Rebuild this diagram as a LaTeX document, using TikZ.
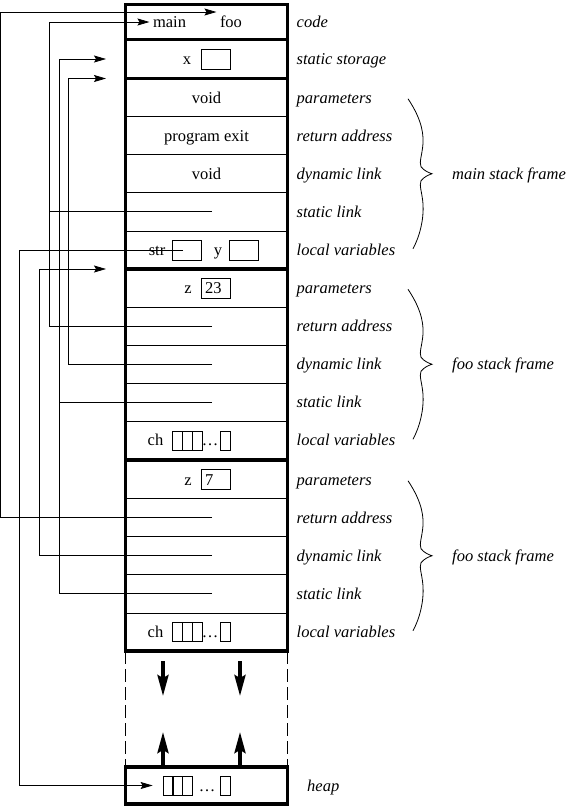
\documentclass[tikz,border=0pt]{standalone}
\usepackage{fontspec}
\setmainfont{Liberation Serif}
\usetikzlibrary{positioning,arrows.meta}

\begin{document}
\begin{tikzpicture}[x=1pt, y=-1pt,
    font=\fontsize{16.5}{19}\selectfont,
    every node/.append style={text height=11pt, text depth=0pt},
    row/.style={draw, line width=0.8pt, minimum width=162pt, minimum height=38.1pt, inner sep=0pt, outer sep=0pt},
    frame/.style={line width=3.5pt},
    tag/.style={anchor=west, inner sep=0pt, font=\fontsize{16.5}{19}\selectfont\itshape},
    valbox/.style={draw, line width=0.8pt, text width=21pt, inner xsep=4pt, inner ysep=0pt, minimum height=20pt, align=left},
    elem/.style={draw, line width=0.8pt, minimum width=10pt, minimum height=19pt, inner sep=0pt},
    link/.style={line width=0.8pt},
    ptr/.style={link, -{Stealth[length=12pt, width=7pt, inset=2pt]}},
    growarrow/.style={line width=3.5pt, -{Stealth[length=21pt, width=11pt, inset=3pt]}},
    curlybrace/.pic={
      \draw[line width=0.8pt] (-24,-75) .. controls (-14,-60) and (-8,-45) .. (-9,-30)
        .. controls (-10,-18) and (-13,-12) .. (-11,-7) .. controls (-8,-3) and (-3,-1) .. (0,0)
        .. controls (-3,1) and (-8,3) .. (-11,7) .. controls (-13,12) and (-10,18) .. (-9,30)
        .. controls (-8,45) and (-12,62) .. (-19,75);
    }
]
\useasboundingbox (0,0) rectangle (567,807);

% code and static storage
\node[row, minimum height=35.2pt, anchor=north] (code) at (206.5,4.3) {};
\node[row, minimum height=39pt, below=0pt of code] (static) {};
\node (main) at (169.5,22) {main};
\node (foo) at (231,22) {foo};
\node at ([xshift=-19.5pt]static.center) {x};
\node[valbox] (xbox) at ([xshift=9pt]static.center) {};
\node[tag] at ([xshift=9pt]code.east) {code};
\node[tag] at ([xshift=9pt]static.east) {static storage};

% stack frames
\foreach \f/\top in {main/78.5, fooA/269, fooB/460.5}
  \foreach \r [count=\i from 0] in {par,ret,dyn,stat,loc}
    \node[row, anchor=north] (\f\r) at (206.5, {\top+38.1*\i}) {};

\foreach \f/\txt in {main/main, fooA/foo, fooB/foo} {
  \foreach \r/\lbl in {par/parameters, ret/return address, dyn/dynamic link, stat/static link, loc/local variables}
    \node[tag] at ([xshift=9pt]\f\r.east) {\lbl};
  \draw[frame] (\f par.north west) rectangle (\f loc.south east);
  \pic at ([xshift=144.5pt]\f dyn.east) {curlybrace};
  \node[tag] at ([xshift=164.5pt]\f dyn.east) {\txt\ stack frame};
}
\draw[frame] (code.north west) rectangle (code.south east);
\draw[frame] (static.north west) rectangle (static.south east);

\node at (mainpar) {void};
\node at (mainret) {program exit};
\node at (maindyn) {void};
\node at ([xshift=-49.5pt]mainloc.center) {str};
\node[valbox] (strbox) at ([xshift=-19.5pt]mainloc.center) {};
\node at ([xshift=11.5pt]mainloc.center) {y};
\node[valbox] (ybox) at ([xshift=37.5pt]mainloc.center) {};

\foreach \f/\val in {fooA/23, fooB/7} {
  \node at ([xshift=-18.5pt]\f par.center) {z};
  \node[valbox] (\f z) at ([xshift=9pt]\f par.center) {\val};
  \node at ([xshift=-51pt]\f loc.center) {ch};
  \foreach \k in {0,1,2}
    \node[elem] (\f ch\k) at ([xshift={-29.5pt+10pt*\k}]\f loc.center) {};
  \node[anchor=base] at ([xshift=3.5pt, yshift=-5.5pt]\f loc.center) {\ldots};
  \node[elem] (\f chn) at ([xshift=18.5pt]\f loc.center) {};
}

% heap
\node[draw, line width=3.5pt, minimum width=162pt, minimum height=37pt, inner sep=0pt, outer sep=0pt] (heap) at (206.5,785.5) {};
\foreach \k in {0,1,2}
  \node[elem] (heapcell\k) at ([xshift={-38.5pt+9.7pt*\k}]heap.center) {};
\node[anchor=base] at ([xshift=0.5pt, yshift=-5.5pt]heap.center) {\ldots};
\node[elem] (heapcelln) at ([xshift=18.5pt]heap.center) {};
\node[tag] at ([xshift=19.5pt]heap.east) {heap};

% free space between stack and heap
\draw[link, dash pattern=on 13pt off 5pt] (fooBloc.south west) -- (heap.north west);
\draw[link, dash pattern=on 13pt off 5pt] (fooBloc.south east) -- (heap.north east);
\draw[growarrow] ([xshift=-43.5pt, yshift=-10pt]fooBloc.south) -- ++(0,35);
\draw[growarrow] ([xshift=33.5pt, yshift=-10pt]fooBloc.south) -- ++(0,35);
\draw[growarrow] ([xshift=-43.5pt]heap.north) -- ++(0,-35);
\draw[growarrow] ([xshift=33.5pt]heap.north) -- ++(0,-35);

% pointers
\coordinate (railA) at (0.5,0);
\coordinate (railB) at (19,0);
\coordinate (railC) at (39,0);
\coordinate (railD) at (49,0);
\coordinate (railE) at (59,0);
\coordinate (railF) at (68,0);
\coordinate (fooentry) at ([yshift=10pt]foo.west);
\coordinate (staticentry) at ([xshift=-19.5pt]static.west);
\coordinate (mainentry) at ([xshift=-19.5pt]mainpar.north west);
\coordinate (fooAentry) at ([xshift=-19.5pt]fooApar.north west);
\coordinate (heapentry) at ([xshift=-10pt]heapcell0.west);

\draw[ptr] ([xshift=5.5pt]fooBret.center) -| (railA |- fooentry) -- (fooentry);
\draw[ptr] ([xshift=5.5pt]fooAret.center) -| (railD |- main.west) -- (main.west);
\draw[link] ([xshift=5.5pt]mainstat.center) -- (railD |- mainstat.center);
\draw[ptr] ([xshift=5.5pt]fooAdyn.center) -| (railF |- mainentry) -- (mainentry);
\draw[ptr] ([xshift=5.5pt]fooAstat.center) -| (railE |- staticentry) -- (staticentry);
\draw[link] ([xshift=5.5pt]fooBstat.center) -| (railE |- fooAstat.center);
\draw[ptr] ([xshift=5.5pt]fooBdyn.center) -| (railC |- fooAentry) -- (fooAentry);
\draw[ptr] ([xshift=-4pt]strbox.center) -| (railB |- heapentry) -- (heapentry);
\end{tikzpicture}
\end{document}
